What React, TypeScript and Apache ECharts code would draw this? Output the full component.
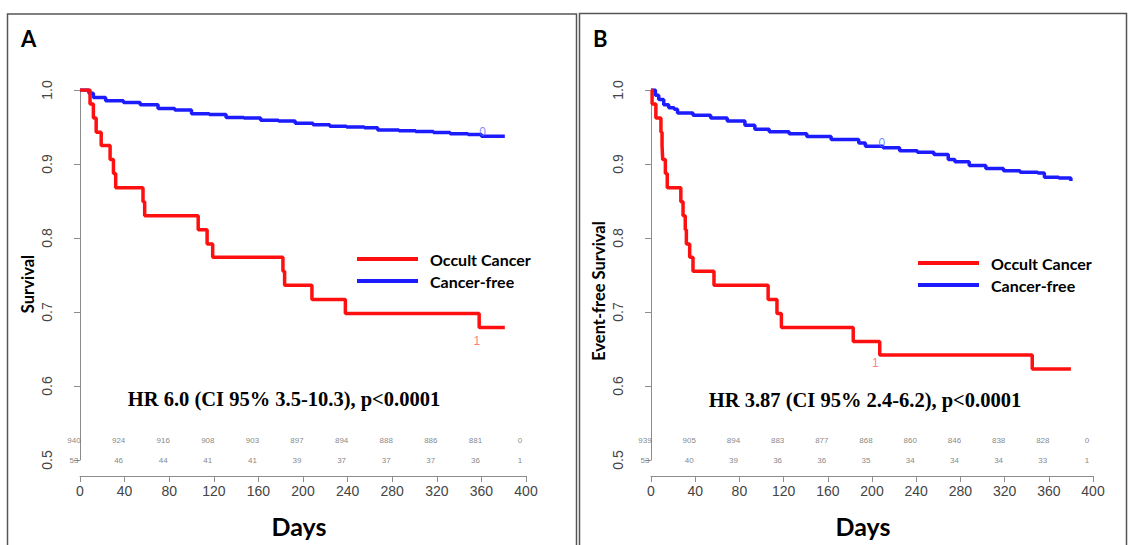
import React, { useEffect, useRef } from 'react';
import * as echarts from 'echarts';

// ---------- Data ----------
const riskDays = [0, 40, 80, 120, 160, 200, 240, 280, 320, 360, 400];

// Panel A – overall survival
const occA_days = [0, 9, 12, 14.5, 19, 27, 30, 32, 56.5, 58, 106, 114, 119, 182, 183.5, 208, 238, 358, 381];
const occA_surv = [1, 0.981, 0.962, 0.943, 0.925, 0.906, 0.887, 0.868, 0.849, 0.83, 0.811, 0.792, 0.774, 0.755, 0.736, 0.717, 0.698, 0.679, 0.679];
const cfA_days = [0, 8, 12, 23, 39, 54, 70, 85, 100, 116, 131, 147, 162, 178, 193, 209, 224, 239, 255, 267, 286, 301, 317, 332, 348, 360, 381];
const cfA_surv = [1, 0.9955, 0.99, 0.9855, 0.983, 0.98, 0.975, 0.973, 0.968, 0.967, 0.963, 0.962, 0.959, 0.958, 0.955, 0.953, 0.951, 0.95, 0.949, 0.946, 0.945, 0.944, 0.9425, 0.941, 0.94, 0.9375, 0.9375];
const riskA_cf = [940, 924, 916, 908, 903, 897, 894, 888, 886, 881, 0];
const riskA_occ = [53, 46, 44, 41, 41, 39, 37, 37, 37, 36, 1];

// Panel B – event-free survival
const occB_days = [0, 1, 4.4, 9, 10, 10.6, 13, 14.7, 27, 29, 31, 32, 35, 38, 57, 106, 114, 118, 183, 207, 345, 380];
const occB_surv = [1, 0.981, 0.962, 0.943, 0.925, 0.906, 0.887, 0.868, 0.849, 0.83, 0.811, 0.792, 0.774, 0.755, 0.736, 0.717, 0.698, 0.679, 0.66, 0.642, 0.623, 0.623];
const cfB_days = [0, 4, 7, 11.5, 16, 21, 24, 38, 54, 69, 85, 94, 107, 125, 141, 163, 178, 188, 194, 210, 225, 241, 256, 269, 275, 288, 303, 319, 334, 350, 356, 369, 380];
const cfB_surv = [1, 0.993, 0.987, 0.98, 0.976, 0.974, 0.969, 0.966, 0.962, 0.958, 0.9525, 0.947, 0.9435, 0.941, 0.937, 0.933, 0.933, 0.9285, 0.924, 0.922, 0.918, 0.916, 0.913, 0.906, 0.903, 0.898, 0.894, 0.891, 0.889, 0.888, 0.882, 0.881, 0.877];
const riskB_cf = [939, 905, 894, 883, 877, 868, 860, 846, 838, 828, 0];
const riskB_occ = [53, 40, 39, 36, 36, 35, 34, 34, 34, 33, 1];

// strata marks drawn by R on the curves
const marksA = [
  { day: 361, surv: 0.943, text: '0', color: '#5b6bff' },
  { day: 356, surv: 0.661, text: '1', color: '#ff5a5a' },
];
const marksB = [
  { day: 209, surv: 0.928, text: '0', color: '#5b6bff' },
  { day: 203, surv: 0.631, text: '1', color: '#ff5a5a' },
];

const riskRowTop = 0.527;
const riskRowBottom = 0.5;

const panelTitles = ['A', 'B'];
const yTitles = ['Survival', 'Event-free Survival'];
const hrTexts = ['HR 6.0 (CI 95% 3.5-10.3), p<0.0001', 'HR 3.87 (CI 95% 2.4-6.2), p<0.0001'];
const legendNames = ['Occult Cancer', 'Cancer-free'];

// ---------- Helpers ----------
const RED = '#ff1010';
const BLUE = '#1c1cff';
const AXIS = '#8c8c8c';
const RISK = '#666666';
const pairs = (d: number[], s: number[]) => d.map((x, i) => [x, s[i]]);

function buildOption() {
  const grids = [
    { left: 80, top: 90, width: 446, height: 370 },
    { left: 651, top: 90, width: 442, height: 370 },
  ];
  const yNamePad = [[0, 18, 0, 0], [0, 32, 0, 0]];
  const xNamePad = [[0, 8, 0, 0], [0, 18, 0, 0]];

  const xAxes = grids.map((_, i) => ({
    gridIndex: i,
    type: 'value',
    min: 0,
    max: 400,
    interval: 40,
    offset: 16,
    axisLine: { show: true, lineStyle: { color: AXIS, width: 1 } },
    axisTick: { show: true, length: 6, lineStyle: { color: AXIS } },
    axisLabel: { fontFamily: 'Liberation Sans', fontSize: 14, color: '#444', margin: 8 },
    splitLine: { show: false },
    name: 'Days',
    nameLocation: 'middle',
    nameGap: 37,
    nameTextStyle: { fontFamily: 'Lato', fontWeight: 'bold', fontSize: 25, color: '#000', padding: xNamePad[i] },
  }));

  const yAxes = grids.map((_, i) => ({
    gridIndex: i,
    type: 'value',
    min: 0.5,
    max: 1.0,
    interval: 0.1,
    offset: 17,
    axisLine: { show: true, lineStyle: { color: AXIS, width: 1 } },
    axisTick: { show: true, length: 6, lineStyle: { color: AXIS } },
    axisLabel: {
      rotate: 90,
      fontFamily: 'Liberation Sans',
      fontSize: 14,
      color: '#444',
      margin: 9,
      formatter: (v: number) => v.toFixed(1),
    },
    splitLine: { show: false },
    name: yTitles[i],
    nameLocation: 'middle',
    nameRotate: 90,
    nameGap: 27,
    nameTextStyle: {
      fontFamily: 'Lato',
      fontWeight: 'bold',
      fontSize: 16.5,
      color: '#000',
      padding: yNamePad[i],
    },
  }));

  const curve = (name: string, data: number[][], color: string, i: number) => ({
    name,
    type: 'line',
    xAxisIndex: i,
    yAxisIndex: i,
    step: 'end',
    symbol: 'none',
    data,
    color,
    lineStyle: { color, width: 3.5 },
    z: 3,
  });

  const riskSeries = (id: string, counts: number[], level: number, i: number) => ({
    name: id,
    type: 'scatter',
    xAxisIndex: i,
    yAxisIndex: i,
    symbolSize: 0.01,
    color: RISK,
    itemStyle: { color: RISK },
    clip: false,
    data: riskDays.map((d, k) => [d, level, counts[k]]),
    label: {
      show: true,
      position: 'inside',
      offset: [-6, 0],
      formatter: (p: any) => String(p.value[2]),
      fontFamily: 'Liberation Sans',
      fontSize: 8,
      color: RISK,
      textBorderWidth: 0,
      textBorderColor: 'transparent',
    },
  });

  const markSeries = (id: string, marks: typeof marksA, i: number) => ({
    name: id,
    type: 'scatter',
    xAxisIndex: i,
    yAxisIndex: i,
    symbolSize: 0.01,
    clip: false,
    z: 4,
    data: marks.map((m) => ({
      value: [m.day, m.surv],
      itemStyle: { color: m.color },
      label: {
        show: true,
        position: 'inside',
        formatter: m.text,
        fontFamily: 'Liberation Sans',
        fontSize: 12,
        color: m.color,
        textBorderWidth: 0,
        textBorderColor: 'transparent',
      },
    })),
  });

  const series = [
    curve('Cancer-free', pairs(cfA_days, cfA_surv), BLUE, 0),
    curve('Occult Cancer', pairs(occA_days, occA_surv), RED, 0),
    curve('Cancer-free', pairs(cfB_days, cfB_surv), BLUE, 1),
    curve('Occult Cancer', pairs(occB_days, occB_surv), RED, 1),
    riskSeries('riskA_cf', riskA_cf, riskRowTop, 0),
    riskSeries('riskA_occ', riskA_occ, riskRowBottom, 0),
    riskSeries('riskB_cf', riskB_cf, riskRowTop, 1),
    riskSeries('riskB_occ', riskB_occ, riskRowBottom, 1),
    markSeries('marksA', marksA, 0),
    markSeries('marksB', marksB, 1),
  ];

  const legendBase = {
    data: legendNames,
    orient: 'vertical',
    icon: 'rect',
    itemWidth: 61,
    itemHeight: 4,
    itemGap: 4,
    padding: 0,
    selectedMode: false,
    textStyle: {
      fontFamily: 'Lato',
      fontWeight: 'bold',
      fontSize: 16,
      color: '#000',
      lineHeight: 18,
      padding: [0, 0, 0, 7],
    },
  };
  const legends = [
    { ...legendBase, left: 357, top: 250 },
    { ...legendBase, left: 918, top: 254 },
  ];

  const graphic = [
    { type: 'rect', shape: { x: 7.5, y: 14, width: 569, height: 560 }, style: { fill: 'none', stroke: '#555', lineWidth: 1.5 }, silent: true },
    { type: 'rect', shape: { x: 579.5, y: 13.5, width: 547, height: 560 }, style: { fill: 'none', stroke: '#555', lineWidth: 1.5 }, silent: true },
    { type: 'text', x: 21, y: 27, style: { text: panelTitles[0], font: 'bold 22px Lato', fill: '#000' } },
    { type: 'text', x: 593, y: 27, style: { text: panelTitles[1], font: 'bold 22px Lato', fill: '#000' } },
    { type: 'text', x: 284, y: 399, style: { text: hrTexts[0], font: 'bold 20.5px "Liberation Serif"', fill: '#000', align: 'center', verticalAlign: 'middle' } },
    { type: 'text', x: 865, y: 400, style: { text: hrTexts[1], font: 'bold 20.5px "Liberation Serif"', fill: '#000', align: 'center', verticalAlign: 'middle' } },
  ];

  return {
    animation: false,
    backgroundColor: '#fff',
    grid: grids,
    xAxis: xAxes,
    yAxis: yAxes,
    legend: legends,
    series,
    graphic,
  };
}

export default function App() {
  const ref = useRef<HTMLDivElement>(null);
  useEffect(() => {
    document.body.style.margin = '0';
    const chart = echarts.init(ref.current!, null, { renderer: 'svg' });
    chart.setOption(buildOption() as any);
    return () => chart.dispose();
  }, []);
  return <div ref={ref} style={{ width: 1131, height: 545 }} />;
}
